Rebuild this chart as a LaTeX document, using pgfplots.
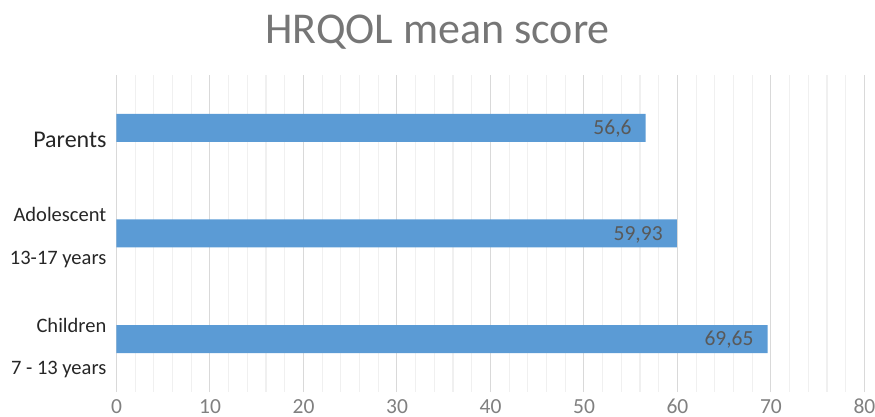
\documentclass[border=0pt]{standalone}
\usepackage{pgfplots}
\pgfplotsset{compat=1.18}
\usepackage{fontspec}
\setmainfont{Carlito}
\definecolor{barblue}{HTML}{5B9BD5}
\definecolor{titlegray}{HTML}{767676}
\definecolor{tickgray}{HTML}{808080}
\definecolor{lblgray}{HTML}{595959}
\definecolor{catgray}{HTML}{262626}
\definecolor{majgrid}{HTML}{D9D9D9}
\definecolor{mingrid}{HTML}{F0F0F0}
\begin{document}
\begin{tikzpicture}
\path[use as bounding box] (-116.5bp,-25bp) rectangle (758.5bp,392bp);
\begin{axis}[
  at={(0,0)}, anchor=south west,
  scale only axis,
  width=748bp, height=317bp,
  xmin=0, xmax=80, ymin=0.5, ymax=3.5,
  xbar, bar width=28bp,
  xtick={0,10,...,80},
  minor x tick num=4,
  xmajorgrids, xminorgrids,
  major grid style={draw=majgrid, line width=1bp},
  minor grid style={draw=mingrid, line width=1.2bp},
  axis line style={draw=none},
  major tick length=0pt, minor tick length=0pt,
  ytick=\empty,
  /pgf/number format/assume math mode=true,
  xticklabel style={font=\fontsize{21.5bp}{24bp}\selectfont, text=tickgray, anchor=base, yshift=-21.3bp},
  point meta=explicit symbolic,
  nodes near coords,
  nodes near coords style={font=\fontsize{21.5bp}{24bp}\selectfont, text=lblgray, anchor=base east, inner sep=0pt, xshift=-14bp, yshift=-6.8bp},
  clip=false,
]
\addplot[fill=barblue, draw=none] table[x=x, y=y, meta=lab] {
x y lab
56.6 3 56,6
59.93 2 59,93
69.65 1 69,65
};
\node[anchor=base, font=\fontsize{44bp}{50bp}\selectfont, text=titlegray] at (rel axis cs:0.5,1) [xshift=-53bp, yshift=31.7bp] {HRQOL mean score};
\node[anchor=base east, font=\fontsize{24bp}{28bp}\selectfont, text=catgray, inner sep=0pt] at (axis cs:0,3) [xshift=-9.8bp, yshift=-19.8bp] {Parents};
\node[anchor=base east, font=\fontsize{20.5bp}{24bp}\selectfont, text=catgray, inner sep=0pt] at (axis cs:0,2) [xshift=-10bp, yshift=11.6bp] {Adolescent\ };
\node[anchor=base east, font=\fontsize{20.5bp}{24bp}\selectfont, text=catgray, inner sep=0pt] at (axis cs:0,2) [xshift=-10bp, yshift=-30.7bp] {13-17 years};
\node[anchor=base east, font=\fontsize{20.5bp}{24bp}\selectfont, text=catgray, inner sep=0pt] at (axis cs:0,1) [xshift=-10bp, yshift=6.6bp] {Children};
\node[anchor=base east, font=\fontsize{20.5bp}{24bp}\selectfont, text=catgray, inner sep=0pt] at (axis cs:0,1) [xshift=-10bp, yshift=-35.7bp] {7 - 13 years};
\end{axis}
\end{tikzpicture}
\end{document}
